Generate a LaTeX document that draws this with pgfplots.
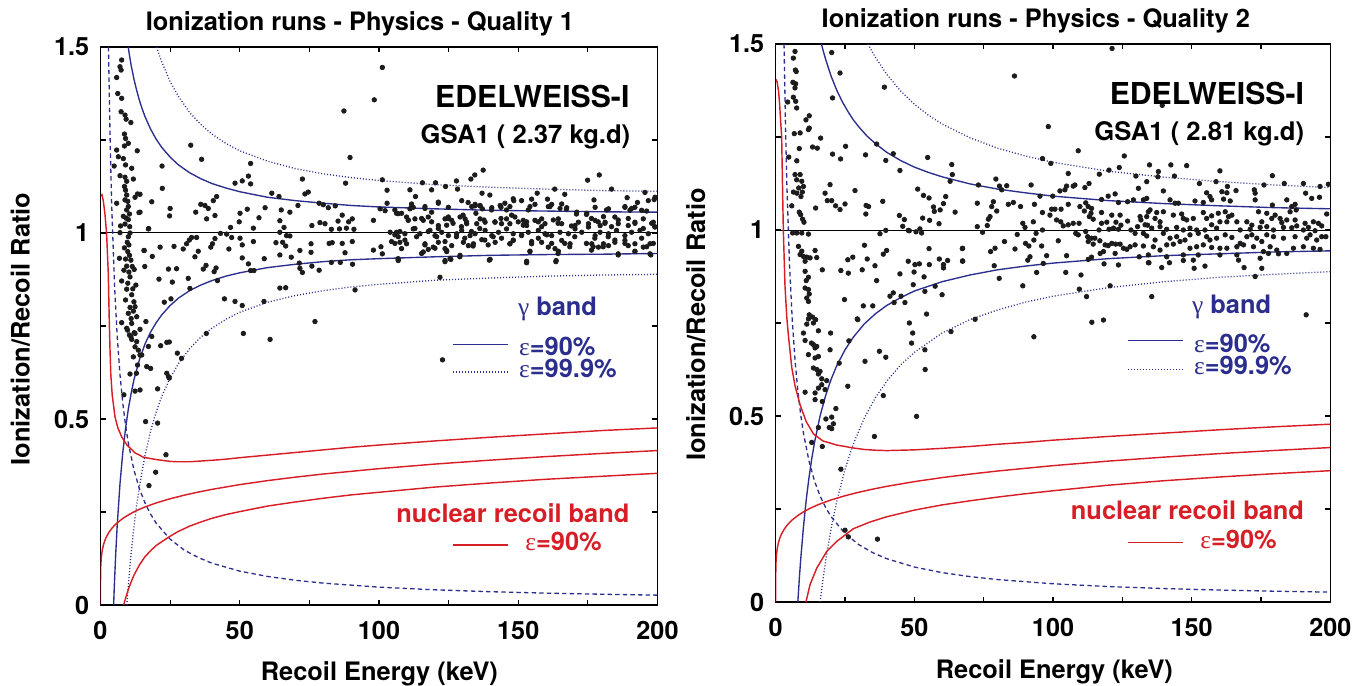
\documentclass[border=0pt]{standalone}
\usepackage{pgfplots}
\pgfplotsset{compat=1.18}
\usepackage{fontspec}
\setmainfont{TeX Gyre Heros}
\newfontfamily\grk{Liberation Serif}
\definecolor{gblue}{RGB}{43,46,140}
\definecolor{nred}{RGB}{215,30,38}
\definecolor{dotc}{RGB}{28,28,28}
\tikzset{
  gsolid/.style={gblue, line width=0.68pt},
  gdot/.style={gblue, line width=0.65pt, dash pattern=on 0.5pt off 1pt},
  gdash/.style={gblue, line width=0.65pt, dash pattern=on 2.2pt off 1.6pt},
  nsolid/.style={nred, line width=0.72pt},
}
\pgfplotsset{
  edw/.style={
    scale only axis, height=279pt,
    xmin=0, xmax=200, ymin=0, ymax=1.5,
    xtick={0,25,...,200}, xticklabels={0,,50,,100,,150,,200},
    ytick={0,0.25,0.5,0.75,1,1.25,1.5}, yticklabels={0,,0.5,,1,,1.5},
    tick align=inside, major tick length=2.7pt,
    tick style={black, line width=0.6pt},
    axis line style={line width=0.75pt},
    tick label style={font=\bfseries\fontsize{12.6}{14}\selectfont},
    xticklabel style={yshift=-4.7pt},
    yticklabel style={xshift=-2.2pt},
  },
  pts/.style={only marks, mark=*, mark size=1.12pt, color=dotc, mark options={draw=none}},
}
\begin{document}
\begin{tikzpicture}
\path[use as bounding box] (0,0) rectangle (686pt,343pt);
% ===================== LEFT PANEL =====================
\begin{axis}[edw, width=278.5pt, at={(50.25pt,40.5pt)}, anchor=south west]
\addplot[black, line width=0.5pt] coordinates {(0,1)(200,1)};
% gamma band 90%
\addplot[gsolid] coordinates {(9.95,1.5)(10.5,1.473)(11,1.451)(12,1.414)(13,1.383)(14,1.356)(15,1.333)(16,1.3125)(18,1.279)(20,1.252)(22,1.230)(25,1.204)(28,1.183)(32,1.162)(36,1.146)(40,1.133)(45,1.121)(50,1.111)(60,1.096)(70,1.087)(80,1.080)(90,1.074)(100,1.070)(120,1.065)(140,1.061)(160,1.059)(180,1.057)(200,1.056)};
\addplot[gsolid] coordinates {(4.71,0)(5,0.058)(5.5,0.143)(6,0.214)(7,0.326)(8,0.410)(9,0.475)(10,0.527)(11,0.569)(12,0.605)(14,0.660)(16,0.702)(18,0.734)(20,0.759)(22,0.780)(25,0.805)(28,0.825)(32,0.845)(36,0.860)(40,0.872)(45,0.884)(50,0.893)(60,0.907)(70,0.916)(80,0.923)(90,0.928)(100,0.931)(120,0.936)(140,0.940)(160,0.942)(180,0.943)(200,0.945)};
% gamma band 99.9%
\addplot[gdot] coordinates {(20.15,1.5)(21,1.481)(22,1.460)(25,1.407)(28,1.367)(32,1.324)(36,1.292)(40,1.266)(45,1.241)(50,1.221)(60,1.193)(70,1.173)(80,1.159)(90,1.149)(100,1.141)(120,1.130)(140,1.123)(160,1.118)(180,1.114)(200,1.112)};
\addplot[gdot] coordinates {(9.46,0)(10,0.054)(11,0.139)(12,0.209)(13,0.269)(14,0.320)(16,0.403)(18,0.468)(20,0.519)(22,0.561)(25,0.610)(28,0.649)(32,0.689)(36,0.720)(40,0.744)(45,0.768)(50,0.787)(60,0.814)(70,0.832)(80,0.845)(90,0.855)(100,0.862)(120,0.873)(140,0.879)(160,0.884)(180,0.887)(200,0.889)};
% threshold
\addplot[gdash] coordinates {(2.87,1.5)(3,1.438)(3.5,1.234)(4,1.08)(5,0.865)(6,0.722)(7,0.619)(8,0.543)(9,0.483)(10,0.435)(12,0.363)(14,0.312)(16,0.274)(18,0.244)(20,0.22)(25,0.177)(30,0.148)(35,0.128)(40,0.1125)(50,0.091)(60,0.0767)(70,0.0664)(80,0.0588)(100,0.048)(120,0.0408)(140,0.0357)(160,0.0319)(180,0.0289)(200,0.0265)};
% nuclear recoil band
\addplot[nsolid] coordinates {(0,0)(0.005,0.0617)(0.02,0.0791)(0.1,0.1057)(0.3,0.1288)(0.6,0.146)(1,0.16)(1.5,0.1721)(2,0.1813)(3,0.195)(4,0.2053)(5,0.2138)(6,0.2209)(8,0.2326)(10,0.2422)(12,0.2503)(14,0.2573)(16,0.2636)(20,0.2744)(25,0.2856)(30,0.2951)(35,0.3034)(40,0.3108)(50,0.3236)(60,0.3344)(70,0.3437)(80,0.3521)(100,0.3665)(120,0.3788)(140,0.3894)(160,0.3989)(180,0.4074)(200,0.4152)};
\addplot[nsolid] coordinates {(0.15,1.10)(0.5,1.103)(1.0,1.087)(1.6,1.051)(2.2,0.997)(2.8,0.89)(3.1,0.78)(3.4,0.69)(3.7,0.62)(4.2,0.565)(5.2,0.506)(6.2,0.477)(7.6,0.452)(9.5,0.43)(12.4,0.409)(15.5,0.397)(20,0.391)(25,0.386)(28,0.385)(32,0.385)(36,0.387)(40,0.389)(45,0.392)(50,0.396)(60,0.403)(70,0.410)(80,0.417)(90,0.424)(100,0.430)(120,0.441)(140,0.451)(160,0.460)(180,0.469)(200,0.476)};
\addplot[nsolid] coordinates {(8.3,0)(9,0.018)(10,0.042)(11,0.062)(12,0.08)(14,0.108)(16,0.13)(18,0.146)(20,0.16)(22,0.170)(25,0.185)(28,0.198)(32,0.212)(36,0.223)(40,0.233)(45,0.243)(50,0.251)(60,0.266)(70,0.277)(80,0.287)(90,0.296)(100,0.303)(120,0.317)(140,0.328)(160,0.338)(180,0.346)(200,0.354)};
% events
\addplot[pts] coordinates {
(7.6,1.465)(7.0,1.447)(7.4,1.438)(5.8,1.418)(6.2,1.375)(7.6,1.362)(7.4,1.326)(8.8,1.317)(9.2,1.306)(10.9,1.297)(8.6,1.266)(9.0,1.254)(10.0,1.241)(8.6,1.234)(5.8,1.223)(6.4,1.205)(8.2,1.200)(13.2,1.221)(4.9,1.180)(9.0,1.183)(11.2,1.174)(7.0,1.154)(8.8,1.150)(9.4,1.139)(11.8,1.145)(8.6,1.125)(9.4,1.102)(13.3,1.105)(5.8,1.080)(12.4,1.096)(8.8,1.089)(10.0,1.071)(9.4,1.062)(10.4,1.051)(13.8,1.055)(8.2,1.045)(10.0,1.036)(8.8,1.024)(7.2,1.019)(10.5,1.017)(17.2,1.011)(7.0,1.001)(10.0,0.990)(10.2,0.968)(9.8,0.950)(6.8,0.932)(10.9,0.927)(15.7,0.953)(9.4,0.911)(8.4,0.900)(12.1,0.902)(10.6,0.882)(7.6,0.871)(12.7,0.860)(9.4,0.849)(11.2,0.834)(9.0,0.820)(12.4,0.802)(10.0,0.784)(13.0,0.775)(11.2,0.757)(7.6,0.759)(9.7,0.739)(12.4,0.730)(10.9,0.721)
(9.0,1.115)(9.8,1.085)(9.2,1.04)(10.6,1.0)(9.6,0.975)(8.6,0.96)(10.4,0.94)(9.0,0.93)(11.4,0.91)(10.2,0.895)(9.8,0.865)(11.6,0.85)(10.6,0.80)(12.0,0.815)(11.8,0.79)(11.0,0.77)
(9.4,0.744)(10.4,0.726)(12.1,0.732)(11.2,0.714)(13.0,0.708)(12.4,0.694)(13.6,0.685)(14.2,0.672)(11.8,0.667)(13.3,0.645)(10.6,0.621)(12.9,0.623)(8.4,0.565)(12.4,0.575)(23.5,0.404)(19.8,0.357)(17.4,0.321)
(101.2,1.445)(98.3,1.358)(87.4,1.328)(89.6,1.203)(32.4,1.236)(36.3,1.198)(22.1,1.18)(22.2,1.12)(18.4,1.084)(53.9,1.187)(53.1,1.153)(50.9,1.14)(48.3,1.134)(53.9,1.132)(72.5,1.145)(88,1.134)(101.2,1.143)(102.9,1.115)(102.9,1.08)(61.5,1.107)(64.1,1.098)(73.4,1.105)(74.6,1.11)(41.7,1.098)(40.5,1.087)(36,1.077)(37.5,1.074)(38.7,1.066)(25,1.066)(24.8,1.046)(34.2,1.056)(38.1,1.038)(41.1,1.047)(50.1,1.053)(52.7,1.064)(49.8,1.03)(56.9,1.041)(59.1,1.068)(54.9,1.013)(46.7,1.015)(64.4,1.033)(64.9,1.062)(68,1.056)(65.9,1.015)(70.9,1.074)(78.5,1.08)(80,1.076)(81.8,1.068)(84.3,1.073)(75.9,1.02)(78.8,1.028)(80.6,1.025)(82.9,1.01)(85.3,1.032)(86.8,1.048)(85.8,1.011)(88.3,1.013)(89.1,1.03)(90.4,1.038)(91,1.01)(98,1.034)(100.4,1.065)(102.2,1.06)(106.3,1.053)(17.3,1.012)(14.2,1.056)(14.2,1.104)
(43.1,0.999)(45.3,0.997)(47.1,0.988)(50.1,0.986)(54.9,0.977)(64.4,1.002)(66.8,0.993)(68,0.992)(63,0.974)(65.4,0.975)(66.5,0.965)(104,1.002)(105.7,0.995)(104.5,0.977)(15.6,0.953)(18.6,0.937)(21.4,0.962)(26.4,0.964)(29.7,0.957)(30.9,0.971)(31.9,0.981)(32.7,0.988)(34.5,0.988)(35.1,0.951)(33.9,0.936)(39.6,0.962)(40.2,0.971)(41.1,0.985)(46.1,0.957)(50.9,0.968)(50.9,0.933)(53.1,0.917)(53.9,0.899)(55.1,0.899)(58.8,0.931)(64.4,0.941)(68.5,0.935)(71.6,0.953)(75.6,0.971)(75.6,0.948)(71.4,0.919)(71.6,0.905)(72.5,0.894)(75.9,0.911)(78.5,0.9)(82.1,0.972)(83.2,0.974)(86.8,0.972)(87.8,0.947)(82.9,0.921)(86.1,0.921)(90.5,0.916)(90.4,0.977)(98,0.954)(100.7,0.963)(101.2,0.944)(106.9,0.926)(91.4,0.847)(15.9,0.91)(21,0.876)(24.4,0.903)(27.3,0.904)(25.8,0.868)(31.5,0.878)(32.1,0.851)(36.9,0.903)(37.9,0.913)(40.8,0.896)(41.5,0.906)(42,0.872)(25.3,0.823)(22.9,0.814)(44.5,0.823)(48.3,0.816)(50.9,0.805)(58.7,0.816)(64.4,0.852)(66.5,0.853)(77,0.762)(60.9,0.714)(51.3,0.73)(38,0.73)(16.3,0.762)(14.2,0.741)(18.4,0.722)(17.2,0.695)(21.6,0.697)(23.8,0.706)(24.7,0.707)(27.6,0.677)(29.1,0.663)(14.8,0.672)(16.6,0.641)(18,0.636)(23.8,0.623)(24.4,0.614)(24.7,0.61)(14.2,0.578)(20.5,0.581)(16.2,0.493)(20.5,0.489)
(137.4,1.169)(134.4,1.156)(133,1.145)(127.8,1.14)(123.9,1.125)(120.3,1.135)(115.6,1.135)(111.1,1.116)(118.9,1.116)(128.2,1.118)(137,1.107)(139.8,1.102)(113.1,1.098)(121.3,1.08)(174.9,1.142)(179.1,1.156)(183.5,1.118)(163.1,1.118)(160.5,1.091)(166.7,1.104)(156.8,1.107)(154.8,1.091)(177.2,1.089)(195.5,1.109)(189.1,1.095)(192.8,1.082)(198.8,1.09)(148.4,1.087)(132,1.082)(134.4,1.073)(136.2,1.073)(140.4,1.062)(143.8,1.069)(145.8,1.062)(161.4,1.071)(165,1.066)(167.3,1.064)(153.6,1.062)(181.7,1.062)(188.3,1.069)(190.7,1.066)(196.1,1.059)(111.7,1.071)(105.7,1.062)(116.5,1.066)
(124.9,1.039)(130.2,1.048)(134.8,1.053)(137.7,1.035)(141.6,1.03)(143.8,1.039)(147.6,1.048)(150,1.03)(151.8,1.021)(153,1.03)(157.2,1.03)(158.4,1.017)(162.6,1.035)(164.3,1.026)(169.1,1.019)(170.9,1.051)(174.5,1.05)(176.3,1.039)(178.7,1.03)(181.1,1.026)(183.5,1.017)(185.9,1.035)(189.5,1.039)(191.9,1.026)(194.9,1.012)(197.9,1.026)(199,1.017)(110.5,1.035)(115.3,1.039)(118.9,1.03)(121.3,1.012)(124.3,1.021)(126.6,1.026)(129.6,1.017)(131.4,1.03)(133.2,1.004)(136.2,1.012)(108.1,1.053)(112.9,1.012)(117.7,1.004)(107.5,1.004)
(106.9,0.99)(109.3,0.981)(113.5,0.99)(116.5,0.968)(120.1,0.959)(123.7,0.977)(124.3,0.95)(120.7,0.99)(127.8,0.99)(130.8,0.986)(133.8,0.965)(138,0.981)(141,0.99)(144,0.986)(147,0.971)(148.2,0.981)(151.2,0.995)(154.2,0.95)(154.8,0.977)(157.2,0.986)(160.2,0.995)(162,0.972)(164.3,0.945)(166.7,0.972)(168.5,0.963)(170.3,0.99)(174.5,0.972)(176.9,0.963)(177.5,0.986)(180.5,0.963)(182.3,0.99)(184.7,0.981)(188.3,0.972)(191.9,0.95)(194.3,0.986)(196.1,0.963)(198.5,0.972)(105.7,0.972)(106.9,0.928)(123.7,0.923)(125.8,0.929)(129,0.936)(139.6,0.927)(153,0.92)(163.5,0.923)(185.9,0.941)(197.6,0.941)(121.9,0.881)(115.3,0.945)(117.7,0.956)(139.2,0.968)(176.3,0.954)(122.8,0.659)
(111.7,1.078)(112.3,1.069)(111.1,1.065)(116.5,1.071)(118.9,1.056)(121.3,1.083)(124.9,1.069)(129.7,1.087)(133.3,1.071)(134.5,1.077)(136.3,1.074)(137.1,1.065)(140.5,1.068)(143.5,1.074)(145.2,1.080)(147.0,1.071)(148.2,1.092)(151.2,1.087)(154.2,1.071)(156.0,1.077)(160.8,1.071)(162.0,1.077)(165.6,1.078)(167.4,1.068)(171.0,1.056)(174.6,1.053)(177.6,1.069)(180.6,1.044)(182.4,1.065)(188.3,1.071)(190.1,1.061)(191.9,1.069)(194.3,1.061)(196.7,1.087)(199.1,1.096)
(106.9,1.052)(109.9,1.043)(110.5,1.034)(112.9,1.038)(115.9,1.034)(117.7,1.043)(121.3,1.020)(123.7,1.038)(124.9,1.043)(126.1,1.034)(129.1,1.043)(130.9,1.038)(131.5,1.025)(135.1,1.025)(136.3,1.038)(138.1,1.029)(141.7,1.029)(144.0,1.025)(145.8,1.038)(147.0,1.025)(148.8,1.043)(151.8,1.034)(153.0,1.020)(156.0,1.034)(158.4,1.038)(159.6,1.025)(164.4,1.038)(165.6,1.025)(170.4,1.020)(171.6,1.029)(175.2,1.025)(177.6,1.034)(179.4,1.020)(181.2,1.029)(184.7,1.043)(185.9,1.025)(189.5,1.020)(191.9,1.029)(194.9,1.038)(198.5,1.029)
(106.3,1.002)(109.3,0.998)(112.3,1.011)(114.7,0.998)(118.3,1.007)(120.1,0.993)(122.5,1.002)(124.9,0.993)(127.9,0.998)(129.7,1.007)(132.7,0.993)(134.5,0.998)(138.1,1.007)(140.5,0.993)(142.9,1.002)(145.8,1.011)(148.2,0.998)(151.2,0.993)(153.6,1.002)(157.2,1.007)(159.6,0.998)(162.0,0.993)(165.0,1.002)(168.0,0.998)(170.4,1.011)(172.8,1.002)(175.2,1.016)(177.6,0.993)(179.4,1.002)(182.4,0.998)(185.3,1.007)(188.3,0.993)(190.7,1.002)(193.7,1.007)(196.7,0.998)(199.1,1.016)
(107.5,0.975)(109.9,0.971)(116.5,0.971)(119.5,0.962)(121.3,0.975)(123.7,0.958)(126.1,0.966)(130.3,0.975)(132.1,0.966)(133.9,0.971)(136.9,0.982)(141.7,0.975)(147.0,0.971)(148.2,0.980)(154.8,0.971)(158.4,0.975)(160.8,0.962)(163.2,0.958)(165.6,0.980)(168.6,0.971)(176.4,0.971)(178.8,0.962)(180.6,0.971)(182.4,0.966)(184.7,0.975)(188.3,0.980)(189.5,0.966)(191.9,0.971)(194.9,0.962)(197.3,0.971)
(108.1,0.958)(115.9,0.949)(124.3,0.953)(154.2,0.951)(164.4,0.951)(185.9,0.944)(191.9,0.951)(197.3,0.944)(106.9,0.931)(123.7,0.926)(125.5,0.931)(129.1,0.940)(139.9,0.929)(153.0,0.924)(163.6,0.926)
};
\end{axis}
% ===================== RIGHT PANEL =====================
\begin{axis}[edw, width=277.3pt, at={(387.85pt,42pt)}, anchor=south west]
\addplot[black, line width=0.5pt] coordinates {(0,1)(200,1)};
\addplot[gsolid] coordinates {(16.5,1.5)(17,1.485)(18,1.459)(20,1.413)(22,1.376)(24,1.345)(26,1.319)(28,1.296)(30,1.277)(33,1.252)(36,1.232)(40,1.209)(45,1.187)(50,1.169)(55,1.155)(60,1.143)(70,1.124)(80,1.110)(90,1.100)(100,1.091)(120,1.079)(140,1.071)(160,1.065)(180,1.060)(200,1.057)};
\addplot[gsolid] coordinates {(7.98,0)(8.5,0.061)(9,0.113)(10,0.201)(11,0.274)(12,0.334)(13,0.385)(14,0.429)(16,0.500)(18,0.555)(20,0.599)(22,0.635)(25,0.678)(28,0.712)(32,0.748)(36,0.775)(40,0.797)(45,0.818)(50,0.836)(60,0.861)(70,0.879)(80,0.893)(90,0.903)(100,0.911)(120,0.923)(140,0.931)(160,0.936)(180,0.941)(200,0.944)};
\addplot[gdot] coordinates {(33.32,1.5)(34.5,1.483)(36,1.464)(40,1.419)(45,1.374)(50,1.338)(55,1.309)(60,1.285)(70,1.248)(80,1.220)(90,1.199)(100,1.182)(120,1.158)(140,1.142)(160,1.130)(180,1.121)(200,1.114)};
\addplot[gdot] coordinates {(16.01,0)(17,0.058)(18,0.110)(20,0.198)(22,0.270)(25,0.357)(28,0.425)(32,0.495)(36,0.550)(40,0.593)(45,0.637)(50,0.671)(60,0.723)(70,0.759)(80,0.785)(90,0.806)(100,0.822)(120,0.845)(140,0.861)(160,0.873)(180,0.881)(200,0.888)};
\addplot[gdash] coordinates {(3.01,1.5)(3.5,1.290)(4,1.129)(5,0.904)(6,0.754)(7,0.647)(8,0.5665)(9,0.504)(10,0.454)(12,0.379)(14,0.325)(16,0.285)(18,0.254)(20,0.229)(25,0.184)(30,0.154)(35,0.1326)(40,0.1165)(50,0.094)(60,0.079)(70,0.0683)(80,0.0603)(100,0.049)(120,0.0415)(140,0.0361)(160,0.0321)(180,0.029)(200,0.0265)};
\addplot[nsolid] coordinates {(0,0)(0.005,0.0617)(0.02,0.0791)(0.1,0.1057)(0.3,0.1288)(0.6,0.146)(1,0.16)(1.5,0.1721)(2,0.1813)(3,0.195)(4,0.2053)(5,0.2138)(6,0.2209)(8,0.2326)(10,0.2422)(12,0.2503)(14,0.2573)(16,0.2636)(20,0.2744)(25,0.2856)(30,0.2951)(35,0.3034)(40,0.3108)(50,0.3236)(60,0.3344)(70,0.3437)(80,0.3521)(100,0.3665)(120,0.3788)(140,0.3894)(160,0.3989)(180,0.4074)(200,0.4152)};
\addplot[nsolid] coordinates {(0.1,1.405)(0.5,1.398)(1.0,1.375)(1.4,1.34)(1.8,1.29)(2.15,1.25)(2.5,1.1)(2.75,1.0)(3.35,0.85)(4.0,0.765)(4.6,0.715)(5.8,0.63)(7,0.58)(8.8,0.53)(11,0.485)(13.6,0.452)(17,0.433)(22,0.422)(25,0.418)(28,0.414)(32,0.410)(36,0.408)(40,0.407)(45,0.408)(50,0.409)(60,0.413)(70,0.418)(80,0.424)(90,0.429)(100,0.435)(120,0.445)(140,0.454)(160,0.463)(180,0.471)(200,0.478)};
\addplot[nsolid] coordinates {(10.9,0)(12.4,0.047)(14.8,0.091)(18.4,0.136)(22,0.163)(28,0.197)(34,0.215)(40,0.229)(50,0.247)(60,0.261)(70,0.272)(80,0.282)(90,0.291)(100,0.299)(120,0.314)(140,0.326)(160,0.336)(180,0.345)(200,0.353)};
\addplot[pts] coordinates {
(6.96,1.480)(6.36,1.462)(7.1,1.430)(7.4,1.426)(6.2,1.397)(7.2,1.393)(6.96,1.382)(6.36,1.357)(7.2,1.346)(4.3,1.344)(7.56,1.328)(20.2,1.477)(23.2,1.422)(20.5,1.355)(39.2,1.384)(12.1,1.307)(10.9,1.296)(11.8,1.270)(12.1,1.274)(6.7,1.259)(8.8,1.261)(16.2,1.247)(13.3,1.223)(15.0,1.220)(8.5,1.219)(25.2,1.225)(36.4,1.231)(4.7,1.196)(7.6,1.186)(20.5,1.204)(23.4,1.191)(32.4,1.202)(39.7,1.187)(42.4,1.205)(54.8,1.195)(63.5,1.176)(44.8,1.160)(63.7,1.149)(62.9,1.131)
(6.96,1.149)(8.8,1.149)(7.56,1.135)(9.4,1.131)(10.0,1.117)(19.6,1.122)(17.8,1.099)(18.6,1.079)(20.2,1.079)(28.6,1.106)(51.2,1.110)(53.3,1.093)(55.3,1.086)(61.3,1.090)(60.5,1.071)(56.9,1.062)(57.2,1.050)(59.3,1.054)(64.7,1.048)
(6.4,1.102)(7.6,1.099)(8.3,1.113)(9.1,1.090)(9.6,1.102)(5.8,1.065)(8.5,1.048)(9.0,1.041)(9.7,1.029)(10.2,1.021)(14.4,1.059)(21.6,1.065)(23.2,1.055)(25.0,1.070)(32.6,1.066)(33.5,1.063)(32.5,1.043)(38.6,1.077)(44.6,1.039)(46.4,1.028)(53.0,1.032)(55.5,1.026)(58.9,1.017)
(45.8,1.010)(47.8,0.999)(50.6,0.995)(52.0,1.003)(52.6,0.992)(48.2,0.998)(37.6,0.990)(39.7,0.999)(6.1,0.992)(7.6,0.992)(9.4,0.992)(11.8,0.989)
(8.2,0.956)(9.4,0.943)(8.8,0.934)(10.0,0.929)(11.2,0.927)(12.4,0.925)(10.6,0.916)(14.2,0.945)(14.8,0.926)(16.8,0.893)(10.6,0.889)(11.8,0.873)(11.0,0.864)(10.6,0.844)(11.8,0.840)(12.1,0.828)(11.2,0.817)(11.8,0.808)(12.1,0.772)(13.3,0.766)(11.8,0.761)(14.4,0.759)(11.2,0.747)(13.6,0.750)(10.0,0.723)(15.4,0.729)(19.8,0.723)(24.8,0.813)(23.5,0.891)(26.2,0.884)(26.0,0.920)(27.8,0.927)(31.2,0.893)(33.0,0.922)(35.8,0.904)(36.4,0.864)(32.0,0.959)(38.8,0.935)(40.0,0.945)(31.6,0.796)(35.0,0.796)(29.4,0.761)(41.2,0.822)(42.4,0.831)(42.7,0.805)(45.2,0.822)(46.6,0.805)(44.8,0.882)(47.8,0.916)(50.2,0.907)(51.8,0.909)(55.4,0.907)(49.9,0.887)(53.5,0.874)(55.3,0.950)(49.6,0.853)(53.8,0.835)(57.5,0.849)(59.0,0.922)(60.5,0.907)(60.5,0.898)(62.0,0.918)(60.0,0.826)(67.3,0.950)(67.4,0.916)(54.4,0.774)(48.2,0.750)(49.4,0.723)(63.2,0.727)
(10.6,0.703)(12.9,0.696)(13.6,0.692)(14.8,0.687)(14.2,0.683)(11.8,0.665)(14.2,0.656)(15.4,0.660)(19.6,0.678)(26.4,0.702)(22.9,0.642)(13.6,0.629)(14.8,0.625)(16.0,0.620)(15.4,0.613)(16.6,0.600)(18.4,0.595)(10.6,0.564)(14.2,0.562)(15.4,0.575)(16.6,0.584)(17.8,0.571)(14.2,0.544)(16.8,0.539)(26.0,0.580)(21.7,0.520)(18.1,0.492)(20.2,0.497)(20.8,0.479)(19.3,0.469)(20.2,0.466)(15.4,0.469)(13.0,0.429)(16.8,0.418)(23.5,0.357)(25.0,0.193)(26.2,0.175)(36.7,0.169)(35.6,0.445)(38.8,0.555)(29.6,0.759)(32.2,0.647)(37.4,0.674)(39.7,0.658)(49.0,0.696)(53.8,0.678)(53.9,0.625)(50.8,0.499)
(86.1,1.414)(98.3,1.278)(109.1,1.213)(96.2,1.192)(99.2,1.179)(125.7,1.199)(123.9,1.168)(120.2,1.161)(116.7,1.150)(129.9,1.145)(105.5,1.152)(133.8,1.130)(130.8,1.112)(79.4,1.137)(73.1,1.121)(80.7,1.118)(81.5,1.108)(83.3,1.119)(92.1,1.121)(95.3,1.091)(99.9,1.091)(102.5,1.105)(104.3,1.108)(104.9,1.118)(107.3,1.118)(107.9,1.121)(111.5,1.114)(113.0,1.125)
(72.7,1.072)(78.5,1.076)(77.9,1.063)(79.7,1.051)(77.3,1.036)(76.7,1.029)(83.9,1.069)(85.7,1.074)(88.3,1.063)(93.3,1.069)(96.2,1.047)(99.5,1.056)(100.7,1.056)(102.9,1.056)(105.5,1.069)(109.7,1.063)(111.8,1.073)(112.7,1.063)(113.9,1.058)(111.3,1.051)(113.1,1.036)(114.5,1.029)(113.7,1.045)(117.5,1.082)(119.9,1.091)(122.4,1.097)(123.6,1.074)(126.9,1.076)(129.0,1.081)(117.5,1.047)(121.2,1.040)(124.2,1.040)(131.4,1.036)(131.7,1.027)(134.4,1.049)(98.9,1.040)(101.3,1.027)(102.8,1.022)(92.9,1.022)(89.1,1.018)(89.9,1.007)(72.7,1.009)(76.3,1.012)(74.6,0.994)(87.1,0.988)(93.9,0.991)(96.2,1.000)(103.7,1.011)(105.5,1.014)(107.3,1.018)(109.4,1.018)
(108.2,0.991)(109.1,0.987)(111.8,0.996)(112.5,0.982)(113.9,0.978)(115.1,0.978)(116.6,1.000)(117.5,1.018)(119.4,1.021)(120.2,1.002)(121.8,1.005)(122.7,1.021)(123.6,1.002)(124.5,1.013)(126.9,1.024)(128.1,1.000)(129.6,0.991)(130.5,1.009)(132.6,0.991)(134.1,1.013)(112.7,0.969)(114.5,0.962)(116.9,0.971)(118.8,0.960)(119.9,0.958)(121.2,0.964)(122.6,0.962)(124.2,0.962)(125.4,0.951)(126.6,0.948)(127.8,0.955)(129.6,0.960)(118.2,0.942)(117.0,0.937)(122.4,0.937)(113.9,0.927)(112.7,0.921)(118.4,0.909)(123.6,0.906)(131.1,0.928)(134.4,0.912)(82.5,0.969)(86.3,0.949)(90.1,0.964)(91.3,0.957)(93.1,0.973)(95.9,0.957)(101.9,0.971)(77.5,0.942)(79.1,0.951)(67.4,0.951)(67.4,0.917)(78.8,0.904)(80.6,0.870)(90.9,0.919)(91.7,0.928)(97.7,0.931)(96.5,0.910)(94.1,0.886)(104.9,0.931)(104.6,0.886)(110.1,0.879)(89.1,0.850)(109.5,0.841)(112.1,0.821)(120.6,0.850)(114.0,0.752)(118.2,0.758)(93.1,0.713)(71.9,0.760)(121.3,1.488)(139.4,1.335)
(134.8,1.175)(142.5,1.175)(148.2,1.173)(138.0,1.157)(137.8,1.143)(143.8,1.145)(160.2,1.159)(179.1,1.146)(152.8,1.125)(158.8,1.130)(162.9,1.117)(176.1,1.121)(183.4,1.125)(190.3,1.125)(196.3,1.117)(199.3,1.123)(139.8,1.105)(155.4,1.100)(160.9,1.103)(162.7,1.100)(166.0,1.106)(172.6,1.108)(172.9,1.099)(184.3,1.081)(191.1,1.099)(193.3,1.085)(196.1,1.088)(133.8,1.085)(132.6,1.081)(142.2,1.081)(144.0,1.072)(145.2,1.072)(151.2,1.078)(154.2,1.074)(157.2,1.081)(156.6,1.090)(161.5,1.083)(163.9,1.078)(172.9,1.081)(179.1,1.067)(186.1,1.063)(187.7,1.054)(187.3,1.069)
(135.0,1.054)(137.4,1.047)(139.8,1.049)(133.8,1.036)(136.8,1.031)(138.6,1.022)(133.2,1.014)(143.4,1.040)(146.4,1.043)(147.0,1.031)(148.2,1.027)(150.6,1.031)(154.2,1.047)(155.4,1.031)(157.2,1.038)(159.6,1.045)(162.1,1.049)(163.3,1.036)(160.2,1.022)(162.7,1.022)(164.5,1.040)(166.3,1.022)(169.9,1.022)(171.7,1.013)(174.1,1.049)(177.1,1.045)(175.3,1.022)(178.9,1.031)(180.1,1.040)(181.9,1.031)(182.5,1.020)(184.3,1.027)(185.5,1.049)(187.3,1.027)(187.9,1.011)(190.9,1.018)(192.1,1.007)(193.9,1.022)(195.7,1.018)(196.9,1.011)(198.7,1.043)
(135.6,1.005)(138.6,1.009)(141.0,1.002)(144.6,1.007)(147.0,1.000)(149.4,1.005)(151.8,1.000)(154.8,1.000)(157.2,1.014)(159.0,1.005)(167.5,1.000)(171.1,1.002)(174.7,1.007)(177.1,1.009)(179.5,1.000)(183.1,1.007)(186.1,1.006)(190.3,1.000)(194.5,0.998)
(133.8,0.984)(136.8,0.973)(139.8,0.991)(142.2,0.978)(144.6,0.982)(145.8,0.969)(147.6,0.973)(149.4,0.987)(152.4,0.991)(155.4,0.982)(156.6,0.973)(159.0,0.978)(162.1,0.987)(164.5,0.980)(167.5,0.964)(169.9,0.982)(171.7,0.987)(173.5,0.978)(175.3,0.969)(177.1,0.987)(179.5,0.982)(183.1,0.978)(187.3,0.982)(191.5,0.978)(192.7,0.987)(195.1,0.973)(196.9,0.982)
(132.6,0.957)(136.2,0.955)(138.6,0.946)(141.0,0.960)(143.4,0.962)(149.4,0.951)(151.8,0.955)(154.2,0.960)(157.2,0.953)(160.2,0.951)(162.7,0.951)(166.3,0.955)(168.7,0.960)(172.3,0.955)(175.9,0.942)(178.3,0.955)(180.7,0.946)(184.3,0.937)(186.7,0.951)(190.3,0.955)(193.9,0.951)(196.3,0.948)(134.4,0.933)(141.0,0.928)(147.0,0.933)(152.4,0.933)(160.2,0.933)(166.3,0.933)(166.9,0.919)(174.7,0.924)(177.7,0.937)(181.3,0.936)(134.6,0.912)(139.2,0.899)(142.0,0.912)(147.0,0.918)(150.6,0.919)(150.9,0.897)(154.8,0.903)(168.9,0.899)(175.3,0.897)(172.9,0.875)(135.6,0.821)(191.3,0.772)(198.4,0.982)
};
\end{axis}
% ===================== TEXT =====================
\tikzset{lab/.style={inner sep=0pt, font=\bfseries\fontsize{12.7}{15}\selectfont}}
\node[lab, anchor=base] at (180pt,327.7pt) {Ionization runs - Physics - Quality 1};
\node[lab, anchor=base] at (517.9pt,329pt) {Ionization runs - Physics - Quality 2};
\node[lab, anchor=base] at (189.7pt,2.5pt) {Recoil Energy (keV)};
\node[lab, anchor=base] at (527.2pt,3.8pt) {Recoil Energy (keV)};
\node[lab, anchor=base, rotate=90] at (14.75pt,178.5pt) {Ionization/Recoil Ratio};
\node[lab, anchor=base, rotate=90] at (352.5pt,180.7pt) {Ionization/Recoil Ratio};
% left inside
\node[inner sep=0pt, anchor=base east, font=\bfseries\fontsize{15.1}{18}\selectfont] at (314.9pt,289.25pt) {EDELWEISS-I};
\node[inner sep=0pt, anchor=base east, font=\bfseries\fontsize{12.8}{15}\selectfont] at (315.3pt,271.25pt) {GSA1 ( 2.37 kg.d)};
\node[lab, anchor=base east, text=gblue] at (298.7pt,185pt) {{\grk\mdseries γ} band};
\draw[gsolid] (226.3pt,170.9pt) -- (254pt,170.9pt);
\node[lab, anchor=base west, text=gblue] at (259.4pt,165.4pt) {{\grk\mdseries ε}=90\%};
\draw[gdot] (226.3pt,157pt) -- (254pt,157pt);
\node[lab, anchor=base west, text=gblue] at (259.4pt,154pt) {{\grk\mdseries ε}=99.9\%};
\node[lab, anchor=base east, text=nred] at (314.9pt,81.6pt) {nuclear recoil band};
\draw[nsolid] (226.3pt,70.4pt) -- (254pt,70.4pt);
\node[lab, anchor=base west, text=nred] at (262.5pt,67.8pt) {{\grk\mdseries ε}=90\%};
% right inside
\node[inner sep=0pt, anchor=base east, font=\bfseries\fontsize{15.1}{18}\selectfont] at (652.2pt,290.8pt) {EDELWEISS-I};
\node[inner sep=0pt, anchor=base east, font=\bfseries\fontsize{12.8}{15}\selectfont] at (652.2pt,272.8pt) {GSA1 ( 2.81 kg.d)};
\node[lab, anchor=base east, text=gblue] at (635.75pt,186.2pt) {{\grk\mdseries γ} band};
\draw[gsolid] (563.9pt,172.6pt) -- (591.4pt,172.6pt);
\node[lab, anchor=base west, text=gblue] at (596.9pt,166.9pt) {{\grk\mdseries ε}=90\%};
\draw[gdot] (563.9pt,158.3pt) -- (591.4pt,158.3pt);
\node[lab, anchor=base west, text=gblue] at (596.9pt,155.5pt) {{\grk\mdseries ε}=99.9\%};
\node[lab, anchor=base east, text=nred] at (652.2pt,83.1pt) {nuclear recoil band};
\draw[nsolid] (563.9pt,71.7pt) -- (591.4pt,71.7pt);
\node[lab, anchor=base west, text=nred] at (600pt,68.9pt) {{\grk\mdseries ε}=90\%};
\end{tikzpicture}
\end{document}
